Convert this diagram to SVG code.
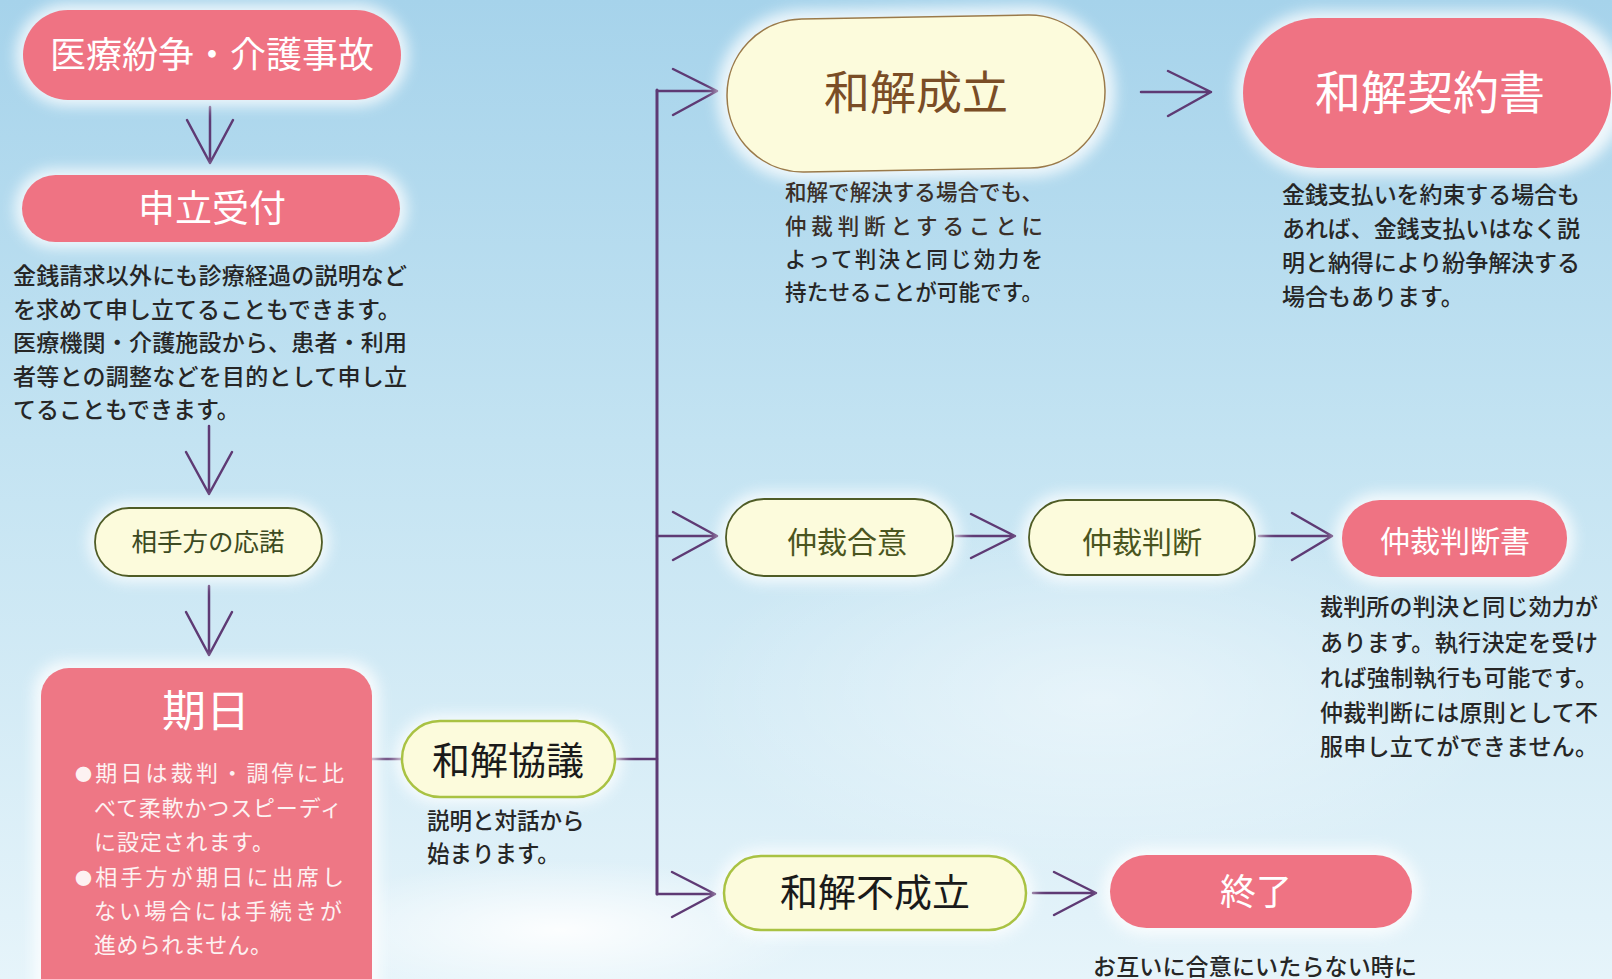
<svg xmlns="http://www.w3.org/2000/svg" width="1612" height="979" viewBox="0 0 1612 979">
<defs>
<linearGradient id="bg" x1="0" y1="0" x2="0" y2="1">
<stop offset="0" stop-color="#a6d3eb"/>
<stop offset="0.45" stop-color="#c3e3f2"/>
<stop offset="1" stop-color="#e6f4fa"/>
</linearGradient>
<radialGradient id="cloud" cx="0.5" cy="0.5" r="0.5">
<stop offset="0" stop-color="#ffffff" stop-opacity="0.9"/>
<stop offset="1" stop-color="#ffffff" stop-opacity="0"/>
</radialGradient>
<filter id="glow" x="-30%" y="-40%" width="160%" height="180%"><feGaussianBlur stdDeviation="7"/></filter>
<style>
.t{font-family:"Noto Sans CJK JP","Noto Sans CJK SC",sans-serif}
.c{text-anchor:middle;dominant-baseline:central}
.pink{fill:#ef7383}
.cream{fill:#fcfbdc}
.halo{fill:#ffffff;opacity:.8;filter:url(#glow)}
.wt{fill:#ffffff}
.desc{fill:#262626;font-size:23px;font-weight:500}
.conn{stroke:#5e3a74;stroke-width:2.5;fill:none;stroke-linecap:round;stroke-linejoin:round}
.olive{stroke:#4f5c26;stroke-width:1.8}
.lime{stroke:#a9c243;stroke-width:2.5}
</style>
</defs>
<rect x="0" y="0" width="1612" height="979" fill="url(#bg)"/>
<ellipse cx="560" cy="930" rx="260" ry="70" fill="url(#cloud)"/>
<ellipse cx="1100" cy="700" rx="420" ry="180" fill="url(#cloud)" opacity="0.5"/>

<g id="connectors">
<path class="conn" d="M210,107 V163 M187,120 L210,163 L233,120"/>
<path class="conn" d="M209,426 V494 M186,452 L209,494 L232,452"/>
<path class="conn" d="M209,586 V655 M186,612 L209,655 L232,612"/>
<path class="conn" d="M372,759 H402"/>
<path class="conn" d="M615,759 H657"/>
<path class="conn" style="stroke-width:3" d="M657,90 V894"/>
<path class="conn" d="M657,91 H717 M673,69 L717,91 L673,115"/>
<path class="conn" d="M657,536 H717 M673,512 L717,536 L673,560"/>
<path class="conn" d="M657,894 H715 M672,872 L715,894 L672,917"/>
<path class="conn" d="M1141,92 H1211 M1168,71 L1211,92 L1168,116"/>
<path class="conn" d="M956,536 H1015 M971,514 L1015,536 L971,558"/>
<path class="conn" d="M1259,536 H1332 M1292,513 L1332,536 L1292,560"/>
<path class="conn" d="M1033,893 H1096 M1054,872 L1096,893 L1054,915"/>
</g>

<g id="n-dispute">
<rect class="halo" x="16" y="4" width="392" height="102" rx="51"/>
<rect class="pink" x="23" y="10" width="378" height="90" rx="45"/>
<text class="t c wt" x="212" y="52" font-size="36">医療紛争・介護事故</text>
</g>

<g id="n-apply">
<rect class="halo" x="15" y="169" width="392" height="79" rx="39"/>
<rect class="pink" x="22" y="175" width="378" height="67" rx="33.5"/>
<text class="t c wt" x="212" y="206" font-size="37">申立受付</text>
<text class="t desc" x="13" y="284" textLength="394" lengthAdjust="spacing">金銭請求以外にも診療経過の説明など</text>
<text class="t desc" x="13" y="318">を求めて申し立てることもできます。</text>
<text class="t desc" x="13" y="351" textLength="394" lengthAdjust="spacing">医療機関・介護施設から、患者・利用</text>
<text class="t desc" x="13" y="385" textLength="394" lengthAdjust="spacing">者等との調整などを目的として申し立</text>
<text class="t desc" x="13" y="418">てることもできます。</text>
</g>

<g id="n-response">
<rect class="halo" x="88" y="502" width="241" height="80" rx="40"/>
<rect class="cream olive" x="95" y="508" width="227" height="68" rx="34"/>
<text class="t c" x="208" y="539" font-size="25.5" fill="#3c4a22">相手方の応諾</text>
</g>

<g id="n-hearing">
<rect class="halo" x="34" y="661" width="345" height="360" rx="32"/>
<rect class="pink" x="41" y="668" width="331" height="340" rx="28" style="fill:#ee7785"/>
<text class="t c wt" x="206" y="708" font-size="44">期日</text>
<g class="t" fill="#fdf2f2" font-size="22">
<text x="75" y="781" textLength="269" lengthAdjust="spacing"><tspan font-size="17">●</tspan>期日は裁判・調停に比</text>
<text x="94" y="816" textLength="248" lengthAdjust="spacing">べて柔軟かつスピーディ</text>
<text x="94" y="850" textLength="180" lengthAdjust="spacing">に設定されます。</text>
<text x="75" y="885" textLength="269" lengthAdjust="spacing"><tspan font-size="17">●</tspan>相手方が期日に出席し</text>
<text x="94" y="919" textLength="248" lengthAdjust="spacing">ない場合には手続きが</text>
<text x="94" y="953" textLength="178" lengthAdjust="spacing">進められません。</text>
</g>
</g>

<g id="n-negotiation">
<rect class="halo" x="395" y="715" width="227" height="88" rx="44"/>
<rect class="cream lime" x="402" y="721" width="213" height="76" rx="38"/>
<text class="t c" x="508" y="757" font-size="38" fill="#1a1a1a">和解協議</text>
<text class="t desc" x="427" y="829" style="font-size:22.5px">説明と対話から</text>
<text class="t desc" x="427" y="862" style="font-size:22.5px">始まります。</text>
</g>

<g id="n-settled">
<g transform="rotate(-1 916 93)">
<rect class="halo" x="717" y="8" width="398" height="171" rx="85"/>
<rect class="cream" x="727" y="17" width="378" height="153" rx="76" stroke="#9a7a4a" stroke-width="1.5"/>
</g>
<text class="t c" x="916" y="89" font-size="46" fill="#7a4d26">和解成立</text>
<g class="t" font-size="21.5" font-weight="500">
<text x="785" y="200" fill="#3a2f28" textLength="258" lengthAdjust="spacing">和解で解決する場合でも、</text>
<text x="785" y="234" fill="#3a2f28" textLength="258" lengthAdjust="spacing">仲裁判断とすることに</text>
<text x="785" y="267" fill="#262626" textLength="258" lengthAdjust="spacing">よって判決と同じ効力を</text>
<text x="785" y="300" fill="#262626" textLength="258" lengthAdjust="spacing">持たせることが可能です。</text>
</g>
</g>

<g id="n-contract">
<rect class="halo" x="1236" y="11" width="390" height="164" rx="82"/>
<rect class="pink" x="1243" y="18" width="368" height="150" rx="75"/>
<text class="t c wt" x="1430" y="89" font-size="46">和解契約書</text>
<text class="t desc" x="1282" y="203" textLength="298" lengthAdjust="spacing">金銭支払いを約束する場合も</text>
<text class="t desc" x="1282" y="237" textLength="298" lengthAdjust="spacing">あれば、金銭支払いはなく説</text>
<text class="t desc" x="1282" y="271" textLength="298" lengthAdjust="spacing">明と納得により紛争解決する</text>
<text class="t desc" x="1282" y="305">場合もあります。</text>
</g>

<g id="n-arb-agree">
<rect class="halo" x="719" y="492" width="241" height="91" rx="45"/>
<rect class="cream olive" x="726" y="499" width="227" height="77" rx="38"/>
<text class="t c" x="847" y="540" font-size="30" fill="#4a5520">仲裁合意</text>
</g>

<g id="n-arb-award">
<rect class="halo" x="1022" y="493" width="240" height="89" rx="44"/>
<rect class="cream olive" x="1029" y="500" width="226" height="75" rx="37"/>
<text class="t c" x="1142" y="540" font-size="30" fill="#4a5520">仲裁判断</text>
</g>

<g id="n-award-doc">
<rect class="halo" x="1335" y="493" width="239" height="91" rx="45"/>
<rect class="pink" x="1342" y="500" width="225" height="77" rx="38"/>
<text class="t c wt" x="1455" y="539" font-size="30">仲裁判断書</text>
<text class="t desc" x="1320" y="615" textLength="278" lengthAdjust="spacing">裁判所の判決と同じ効力が</text>
<text class="t desc" x="1320" y="651" textLength="278" lengthAdjust="spacing">あります。執行決定を受け</text>
<text class="t desc" x="1320" y="686" textLength="278" lengthAdjust="spacing">れば強制執行も可能です。</text>
<text class="t desc" x="1320" y="721" textLength="278" lengthAdjust="spacing">仲裁判断には原則として不</text>
<text class="t desc" x="1320" y="755" textLength="278" lengthAdjust="spacing">服申し立てができません。</text>
</g>

<g id="n-failed">
<rect class="halo" x="717" y="849" width="316" height="88" rx="44"/>
<rect class="cream lime" x="724" y="856" width="302" height="74" rx="37"/>
<text class="t c" x="875" y="889" font-size="38" fill="#1a1a1a">和解不成立</text>
</g>

<g id="n-end">
<rect class="halo" x="1103" y="848" width="316" height="87" rx="43"/>
<rect class="pink" x="1110" y="855" width="302" height="73" rx="36.5"/>
<text class="t c wt" x="1256" y="889" font-size="36">終了</text>
<text class="t desc" x="1093" y="975" textLength="324" lengthAdjust="spacing">お互いに合意にいたらない時に</text>
</g>
</svg>
